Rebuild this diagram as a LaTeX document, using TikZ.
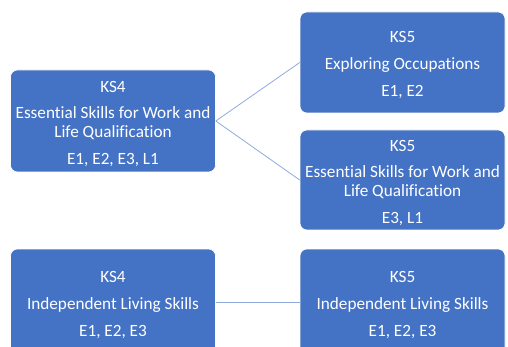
\documentclass[tikz,border=0pt]{standalone}
\usepackage{fontspec}
\setmainfont{Carlito}[Ligatures={NoCommon}]
\definecolor{boxblue}{HTML}{4472C4}
\definecolor{linkblue}{HTML}{8FAADC}
\newcommand\boxtopstrut{\rule{0pt}{16.5pt}}
\tikzset{
  stagebox/.style={rectangle, rounded corners=7pt, fill=boxblue, draw=white, line width=0.6pt,
    minimum width=205pt, text=white, align=center, inner sep=0pt,
    font=\fontsize{17.2}{18.5}\selectfont},
  link/.style={draw=linkblue, line width=0.8pt}
}
\begin{document}
\begin{tikzpicture}[x=1pt,y=-1pt]
\useasboundingbox (0,0) rectangle (508,347);
\clip (0,0) rectangle (508,347);
\node[stagebox, minimum height=102pt] (a) at (113,121) {\boxtopstrut KS4\\[8.2pt]Essential Skills for Work and\\Life Qualification\\[8.2pt]E1, E2, E3, L1};
\node[stagebox, minimum height=101pt] (b) at (402.5,62.5) {\boxtopstrut KS5\\[8.2pt]Exploring Occupations\\[8.2pt]E1, E2};
\node[stagebox, minimum height=100pt] (c) at (402.5,180) {\boxtopstrut KS5\\[8.2pt]Essential Skills for Work and\\Life Qualification\\[8.2pt]E3, L1};
\node[stagebox, minimum height=107pt] (d) at (113,302.5) {\boxtopstrut KS4\\[8.2pt]Independent Living Skills\\[8.2pt]E1, E2, E3};
\node[stagebox, minimum height=107pt] (e) at (402.5,302.5) {\boxtopstrut KS5\\[8.2pt]Independent Living Skills\\[8.2pt]E1, E2, E3};
\draw[link] (a.east) -- (b.west);
\draw[link] (a.east) -- (c.west);
\draw[link] (d.east) -- (e.west);
\end{tikzpicture}
\end{document}
